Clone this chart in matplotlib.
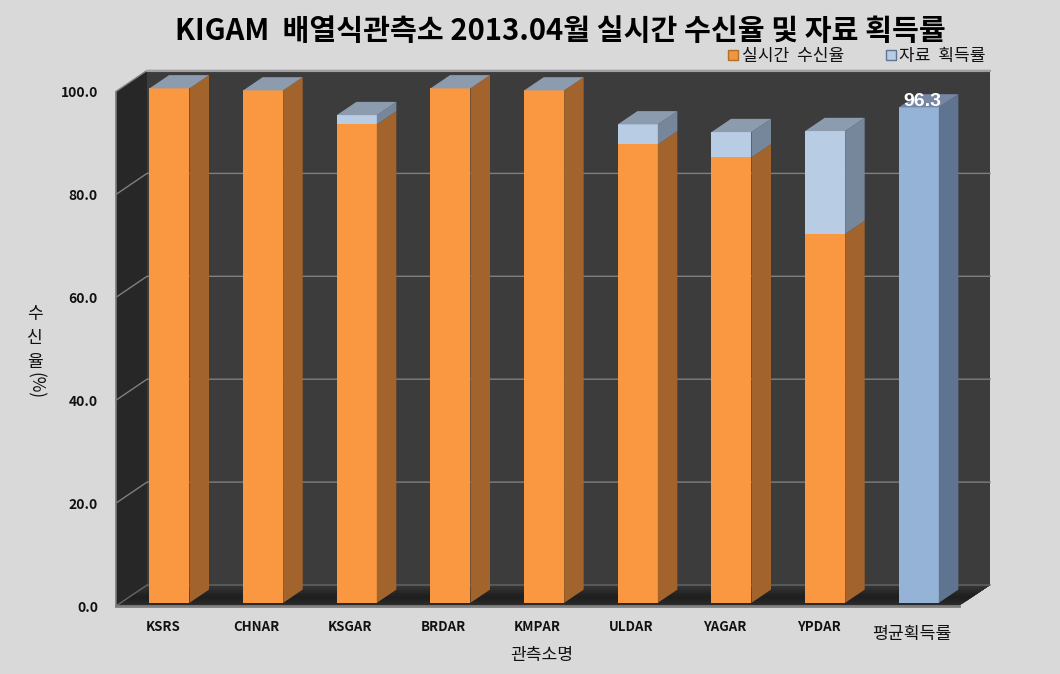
import matplotlib
matplotlib.use('Agg')
import matplotlib.pyplot as plt
from matplotlib.patches import Polygon, Patch

plt.rcParams['font.family'] = ['Noto Sans CJK KR', 'DejaVu Sans']

stations = ['KSRS', 'CHNAR', 'KSGAR', 'BRDAR', 'KMPAR', 'ULDAR', 'YAGAR', 'YPDAR', '평균획득률']
realtime = [100.0, 99.6, 93.0, 100.0, 99.6, 89.1, 86.6, 71.7]
acquired = [100.0, 99.6, 94.8, 100.0, 99.6, 93.0, 91.5, 91.7]
mean_acq = 96.3
y_ticks = [0, 20, 40, 60, 80, 100]

W, H = 1060, 674
BG = '#d9d9d9'

# front plane of the fake 3d box, in pixels
left, right, bottom, top = 116, 959, 606, 91.5

fig = plt.figure(figsize=(W / 100, H / 100), dpi=100, facecolor=BG)
ax = fig.add_axes([left / W, 1 - bottom / H, (right - left) / W, (bottom - top) / H])
ax.set_xlim(0, len(stations))
ax.set_ylim(0, 100)
ax.patch.set_visible(False)
for s in ax.spines.values():
    s.set_visible(False)

n = len(stations)
PX = (right - left) / n
# depth of the box in data units (31 px right, 21 px up)
DX = 31 / PX
DY = 21 / ((bottom - top) / 100)


def pt(x, v, d=0.0):
    return (x + DX * d, v + DY * d)


def quad(a, b, c, e, color, z=1):
    ax.add_patch(Polygon([a, b, c, e], closed=True, facecolor=color, edgecolor='none',
                         clip_on=False, zorder=z))


# walls and floor, the floor is darker around the foot of the bars
quad(pt(0, 0, 1), pt(n, 0, 1), pt(n, 100, 1), pt(0, 100, 1), '#3c3c3c', 1)
quad(pt(0, 0), pt(0, 0, 1), pt(0, 100, 1), pt(0, 100), '#272727', 1)
floor_cols = ['#2b2b2b', '#262626', '#212121', '#1f1f1f', '#232323', '#292929', '#2f2f2f', '#353535']
# every band runs to the back edge and overlaps the last one, no seams
for k, c in enumerate(floor_cols):
    d0 = k / len(floor_cols)
    quad(pt(0, 0, d0), pt(n, 0, d0), pt(n, 0, 1), pt(0, 0, 1), c, 1)

for v in y_ticks:
    c = '#7f7f7f' if v else '#666666'
    ax.plot(*zip(pt(0, v), pt(0, v, 1), pt(n, v, 1)), color=c, lw=1, clip_on=False, zorder=2)
ax.plot(*zip(pt(0, 0), pt(n, 0)), color='#808080', lw=2, clip_on=False, zorder=2)
ax.plot(*zip(pt(0, 0), pt(0, 100)), color='#7a7a7a', lw=1.2, clip_on=False, zorder=2)
ax.plot(*zip(pt(0, 100, 1), pt(n, 100, 1)), color='#a0a0a0', lw=1.5, clip_on=False, zorder=2)

BAR_W = 40 / PX
SHIFT = 2 / PX
D0, D1 = 0.15, 0.78


def bar3d(i, v0, v1, front, side, topc=None):
    x0 = i + 0.5 - BAR_W / 2 + SHIFT
    x1 = x0 + BAR_W
    quad(pt(x0, v0, D0), pt(x1, v0, D0), pt(x1, v1, D0), pt(x0, v1, D0), front, 3)
    quad(pt(x1, v0, D0), pt(x1, v0, D1), pt(x1, v1, D1), pt(x1, v1, D0), side, 3)
    if topc:
        quad(pt(x0, v1, D0), pt(x1, v1, D0), pt(x1, v1, D1), pt(x0, v1, D1), topc, 3)


for i in range(len(realtime)):
    bar3d(i, 0, realtime[i], '#f99841', '#a3632c')
    bar3d(i, realtime[i], acquired[i], '#b8cce4', '#76879c', '#8c9bad')
bar3d(8, 0, mean_acq, '#95b3d7', '#5f7490', '#7587a3')

ax.text(*pt(8.5 + SHIFT + 4 / PX, mean_acq + 1.1, D0), '%.1f' % mean_acq, color='white', fontsize=14,
        fontweight='bold', family='Liberation Sans', ha='center', va='center', zorder=5)

ax.set_xticks([i + 0.5 for i in range(n)])
ax.set_xticklabels(stations, fontsize=9.5, fontweight='bold', color='#111111')
ax.set_yticks(y_ticks)
ax.set_yticklabels(['%.1f' % v for v in y_ticks], fontsize=10, fontweight='bold', color='#111111')
ax.tick_params(axis='both', length=0)
ax.tick_params(axis='x', pad=10)
for t in ax.yaxis.get_major_ticks():
    t.set_pad(13)
last = ax.xaxis.get_major_ticks()[-1]
last.set_pad(14)
last.label1.set_fontweight('normal')
last.label1.set_fontsize(12.4)

fig.text(560 / W, 1 - 31 / H, 'KIGAM  배열식관측소 2013.04월 실시간 수신율 및 자료 획득률',
         fontsize=21, fontweight='bold', ha='center', va='center', color='black')
fig.text(542 / W, 1 - 655 / H, '관측소명', fontsize=12.3, ha='center', va='center', color='#111111')
fig.text(35 / W, 1 - 338 / H, '수\n신\n율', fontsize=12.3, ha='center', va='center',
         linespacing=1.42, color='#111111')
fig.text(35 / W, 1 - 386 / H, '(%)', fontsize=12.3, rotation=-90, ha='center', va='center', color='#111111')

handles = [Patch(facecolor='#f0963c', edgecolor='#b0702c'), Patch(facecolor='#b8cce4', edgecolor='#5f7490')]
fig.legend(handles, ['실시간  수신율', '자료  획득률'], ncol=2, frameon=False, fontsize=12.3,
           loc='center', bbox_to_anchor=(857 / W, 1 - 56 / H), handlelength=0.6, handleheight=0.6,
           handletextpad=0.2, columnspacing=2.45, labelcolor='#111111')

fig.savefig('out.png', dpi=100, facecolor=BG)
